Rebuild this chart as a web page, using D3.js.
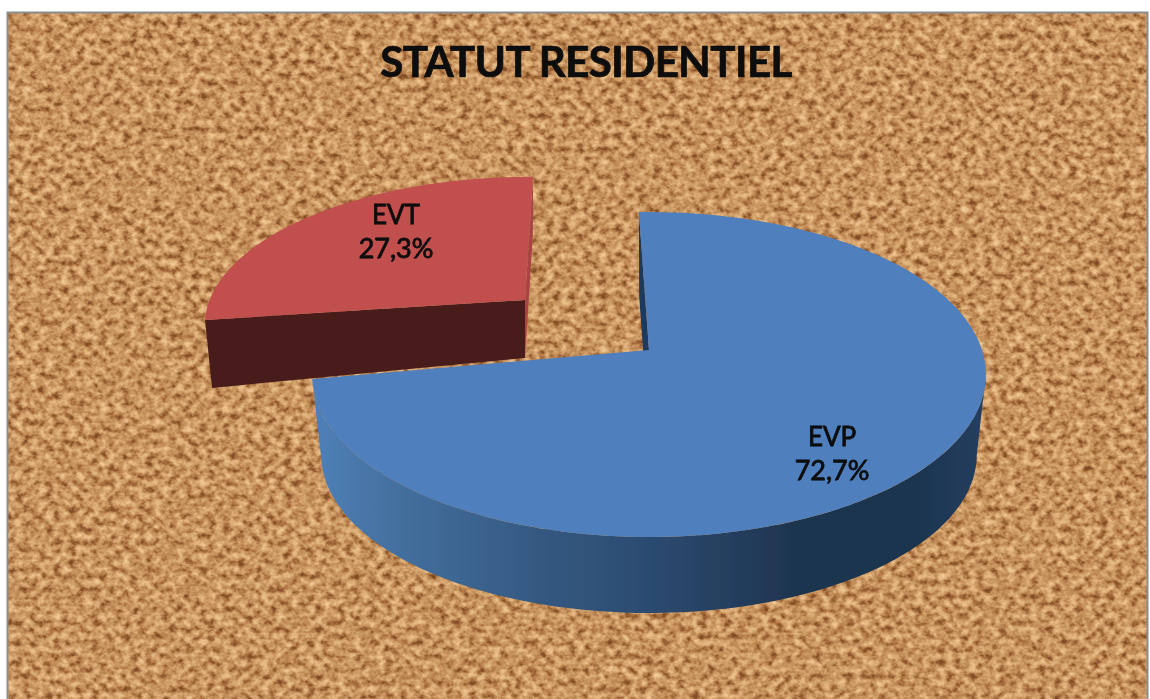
<!DOCTYPE html>
<html><head><meta charset="utf-8">
<script src="https://cdn.jsdelivr.net/npm/d3@7"></script>
<style>html,body{margin:0;padding:0;background:#fff;overflow:hidden}svg{display:block}</style>
</head><body><svg id="c" width="1150" height="699"></svg>
<script>
const chartTitle = "STATUT RESIDENTIEL";
const categories = ["EVP", "EVT"];
const values = [72.7, 27.3];
const W = 1150, H = 699;
const PERSP = 0.151;
const DEG = Math.PI / 180;

const svg = d3.select("#c");
const defs = svg.append("defs");

// cork texture
const f = defs.append("filter").attr("id","cork").attr("x",0).attr("y",0).attr("width","100%").attr("height","100%")
  .attr("color-interpolation-filters","sRGB");
f.append("feTurbulence").attr("type","fractalNoise").attr("baseFrequency","0.13 0.15").attr("numOctaves",3).attr("seed",7).attr("result","n");
f.append("feColorMatrix").attr("in","n").attr("type","matrix").attr("values","1 0 0 0 0  1 0 0 0 0  1 0 0 0 0  0 0 0 0 1").attr("result","g");
const ct = f.append("feComponentTransfer").attr("in","g").attr("result","col");
ct.append("feFuncR").attr("type","table").attr("tableValues","0.50 0.50 0.52 0.62 0.72 0.78 0.84 0.89 0.93 0.95 0.95");
ct.append("feFuncG").attr("type","table").attr("tableValues","0.29 0.29 0.31 0.40 0.50 0.58 0.65 0.71 0.76 0.8 0.8");
ct.append("feFuncB").attr("type","table").attr("tableValues","0.13 0.13 0.15 0.22 0.30 0.37 0.44 0.50 0.56 0.6 0.6");
f.append("feGaussianBlur").attr("in","col").attr("stdDeviation",0.7);

const soft = defs.append("filter").attr("id","soft").attr("x","-5%").attr("y","-20%").attr("width","110%").attr("height","140%");
soft.append("feGaussianBlur").attr("stdDeviation",0.55);

const grad = defs.append("linearGradient").attr("id","side").attr("gradientUnits","userSpaceOnUse")
  .attr("x1",313).attr("x2",987).attr("y1",0).attr("y2",0);
[[0,"#4f80b8"],[0.12,"#44709f"],[0.35,"#33577f"],[0.5,"#2c4b70"],[0.72,"#1e344f"],[0.9,"#1d3550"],[1,"#233e5f"]]
  .forEach(([o,c])=>grad.append("stop").attr("offset",o).attr("stop-color",c));

// background
svg.append("rect").attr("x",7).attr("y",12).attr("width",W-10).attr("height",H-12).attr("fill","#c29260").attr("filter","url(#cork)");
svg.append("rect").attr("x",7.5).attr("y",12.5).attr("width",W-10).attr("height",H).attr("fill","none").attr("stroke","#8c8c8c").attr("stroke-width",2);

// pie layout
const arcs = d3.pie().value(d=>d).sort(null).startAngle(-2*DEG).endAngle(358*DEG)(values);

// perspective projection of a unit disc onto the slide
function projector(g){
  return t=>{
    const X=Math.sin(t), Y=Math.cos(t), w=1+PERSP*Y;
    return [g.x0+(g.a*X+g.s*Y)/w, g.y0-(g.b*Y+g.t*X)/w];
  };
}
const geo = [
  {x0:649,y0:350,a:333,b:158.8,s:0,t:0,sx:0.973,dy:81,tilt:0},
  {x0:525,y0:300,a:312.8,b:141.6,s:20.2,t:-5.9,sx:0.978,dy:58,tilt:0.031}
];
function lower(g){
  return ([x,y])=>{
    const sy = g.tilt ? 1 : g.sx;
    return [g.x0+(x-g.x0)*g.sx, g.y0+(y-g.y0)*sy+g.dy+(g.x0-x)*g.tilt];
  };
}
const line = d3.line();
const samples = (a0,a1)=>d3.range(0,121).map(i=>a0+(a1-a0)*i/120);

const gr = svg.append("g").attr("filter","url(#soft)");

function wedge(arc,g){
  const P=projector(g), L=lower(g), apex=[g.x0,g.y0], rim=samples(arc.startAngle,arc.endAngle).map(P);
  return {P,L,apex,rim,top:line([apex,...rim])+"Z"};
}

// EVT (red, exploded, drawn first)
const r = wedge(arcs[1],geo[1]);
const rEnd = r.rim[r.rim.length-1];
gr.append("path").attr("d",line([rEnd,r.L(rEnd),r.L(r.apex),r.apex])+"Z").attr("fill","#a84543");
gr.append("path").attr("d",line([r.apex,r.rim[0],r.L(r.rim[0]),r.L(r.apex)])+"Z").attr("fill","#4a1d1d");
gr.append("path").attr("d",r.top).attr("fill","#c0504d");

// EVP (blue)
const b = wedge(arcs[0],geo[0]);
gr.append("path").attr("d",line([b.rim[0],b.L(b.rim[0]),b.L(b.apex),b.apex])+"Z").attr("fill","#1f3a5c");
const sideA0 = Math.acos(-PERSP);
const sideRim = samples(sideA0,arcs[0].endAngle).map(b.P);
gr.append("path").attr("d",line([...sideRim,...sideRim.map(b.L).reverse()])+"Z").attr("fill","url(#side)");
gr.append("path").attr("d",b.top).attr("fill","#4f7fbc");

// texts
const fmt = v=>d3.format(".1f")(v).replace(".",",")+"%";
const labelPos = [[832,446,480],[396,224,258]];
const tx = svg.append("g").attr("filter","url(#soft)").attr("font-family","Lato, 'Open Sans', sans-serif").attr("text-anchor","middle").attr("fill","#0a0a0a");
tx.append("text").attr("x",586).attr("y",77).attr("font-size",42).attr("font-weight",700).attr("letter-spacing",-0.5).attr("stroke","#0a0a0a").attr("stroke-width",0.7).text(chartTitle);
categories.forEach((c,i)=>{
  const [x,y1,y2]=labelPos[i];
  tx.append("text").attr("x",x).attr("y",y1).attr("font-size",26).attr("stroke","#0a0a0a").attr("stroke-width",0.8).text(c);
  tx.append("text").attr("x",x).attr("y",y2).attr("font-size",27).attr("stroke","#0a0a0a").attr("stroke-width",0.8).text(fmt(values[i]));
});
</script></body></html>
